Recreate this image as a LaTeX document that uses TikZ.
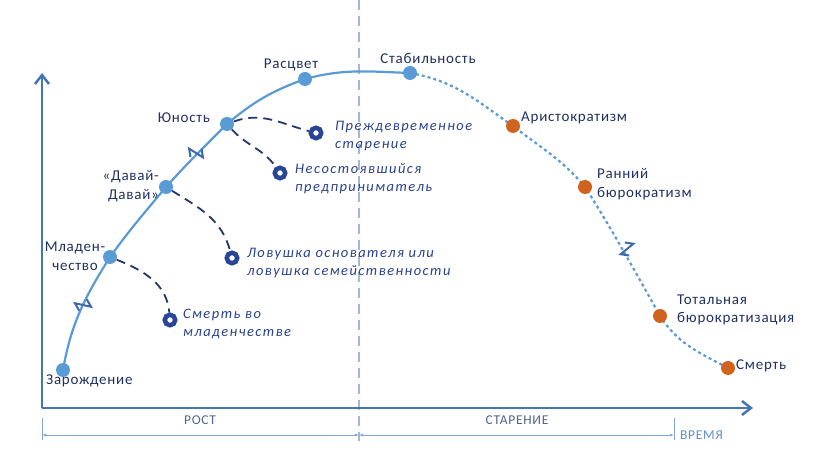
\documentclass[tikz,border=0pt]{standalone}
\usepackage{fontspec}
\setmainfont{Carlito}
\newfontfamily\labfont{Carlito}[LetterSpace=5]
\newfontfamily\itfont{Carlito}[LetterSpace=10]
\usetikzlibrary{arrows.meta}
\definecolor{curveblue}{RGB}{91,155,213}
\definecolor{axisc}{RGB}{70,118,175}
\definecolor{brkc}{RGB}{60,105,170}
\definecolor{ringc}{RGB}{40,70,150}
\definecolor{trapc}{RGB}{35,55,110}
\definecolor{labc}{RGB}{32,48,98}
\definecolor{itc}{RGB}{40,65,145}
\definecolor{dotorange}{RGB}{208,100,30}
\definecolor{vlinec}{RGB}{160,185,215}
\definecolor{dimc}{RGB}{130,165,210}
\definecolor{botc}{RGB}{80,100,140}
\definecolor{timec}{RGB}{90,145,205}
\begin{document}
\begin{tikzpicture}[x=1pt,y=1pt,
  lab/.style={font=\labfont\fontsize{15}{18.5}\selectfont, text=labc, inner sep=1pt},
  itlab/.style={font=\itfont\itshape\fontsize{14.5}{18}\selectfont, text=itc, align=left, anchor=west, inner sep=1pt},
  bdot/.style={circle, fill=curveblue, minimum size=14pt, inner sep=0pt},
  odot/.style={circle, fill=dotorange, minimum size=14pt, inner sep=0pt},
  ring/.style={circle, draw=ringc, line width=4.5pt, fill=white, minimum size=10.5pt, inner sep=0pt},
  curve/.style={draw=curveblue, line width=2.2pt},
  dotcurve/.style={draw=curveblue, line width=2.2pt, dash pattern=on 3pt off 3pt},
  trap/.style={draw=trapc, line width=1.8pt, dash pattern=on 9pt off 6pt},
  brk/.style={draw=brkc, line width=2pt, line join=miter},
  axis/.style={draw=axisc, line width=2.5pt},
  dimline/.style={draw=dimc, line width=1pt},
  botlab/.style={font=\labfont\fontsize{13.5}{16}\selectfont, inner sep=1pt},
]
\useasboundingbox (0,0) rectangle (816,455);

% points on the curve
\coordinate (z) at (63,85);
\coordinate (m) at (110,198);
\coordinate (d) at (166,268);
\coordinate (yu) at (227,331);
\coordinate (r) at (305,376);
\coordinate (s) at (410,382);
\coordinate (a) at (513,329);
\coordinate (rb) at (585,268);
\coordinate (t) at (660,139);
\coordinate (de) at (728,87);

% axes & separators
\coordinate (o) at (42,47);
\coordinate (ytop) at (42,382);
\coordinate (xend) at (753,47);
\coordinate (vtop) at (359,455);
\coordinate (vbot) at (359,14);
\draw[draw=vlinec, line width=1.5pt, dash pattern=on 10pt off 6pt] (vtop) -- (vbot);
\draw[axis, -{Straight Barb[length=9pt,width=14pt,line width=2.5pt]}] (o) -- (ytop);
\draw[axis, -{Straight Barb[length=9pt,width=14pt,line width=2.5pt]}] (o) -- (xend);

% dimension line
\coordinate (t1a) at (42,37);  \coordinate (t1b) at (42,15);
\coordinate (t3a) at (674,37); \coordinate (t3b) at (674,15);
\coordinate (d1) at (42,20); \coordinate (d2) at (359,20); \coordinate (d3) at (674,20);
\draw[dimline] (t1a) -- (t1b);
\draw[dimline] (t3a) -- (t3b);
\draw[dimline, {Latex[length=4pt,width=3pt]}-{Latex[length=4pt,width=3pt]}] (d1) -- (d2);
\draw[dimline, {Latex[length=4pt,width=3pt]}-{Latex[length=4pt,width=3pt]}] (d2) -- (d3);
\node[botlab, text=botc] (lrost) at (200,35) {РОСТ};
\node[botlab, text=botc] (lstar) at (517,35) {СТАРЕНИЕ};
\node[botlab, text=timec, anchor=west] (ltime) at (679,20) {ВРЕМЯ};

% curve
\draw[curve] (z) to[out=80,in=238] (m) to[out=54,in=230] (d) to[out=48,in=225] (yu)
  to[out=40,in=200] (r) to[out=15,in=178] (s);
\draw[dotcurve] (s) to[out=-10,in=145] (a) to[out=-38,in=130] (rb)
  to[out=-57,in=119,looseness=0.7] (t) to[out=-57,in=152] (de);

% break marks
\begin{scope}[shift={(83,150)}, rotate=68, scale=1.35]
  \draw[brk] (-5,1) -- (-1,6) -- (1,-6) -- (5,-1);
\end{scope}
\begin{scope}[shift={(196,302)}, rotate=48, scale=1.35]
  \draw[brk] (-5,1) -- (-1,6) -- (1,-6) -- (5,-1);
\end{scope}
\begin{scope}[shift={(627,206)}, rotate=-60, scale=1.35]
  \draw[brk] (-5,1) -- (-1,6) -- (1,-6) -- (5,-1);
\end{scope}

% dots
\node[bdot] (zdot) at (z) {};
\node[bdot] (mdot) at (m) {};
\node[bdot] (ddot) at (d) {};
\node[bdot] (ydot) at (yu) {};
\node[bdot] (rdot) at (r) {};
\node[bdot] (sdot) at (s) {};
\node[odot] (adot) at (a) {};
\node[odot] (rbdot) at (rb) {};
\node[odot] (tdot) at (t) {};
\node[odot] (dedot) at (de) {};

% rings
\node[ring] (r1) at (170,135) {};
\node[ring] (r2) at (232,197) {};
\node[ring] (r3) at (280,282) {};
\node[ring] (r4) at (316,322) {};

% trap connectors
\draw[trap] (mdot) to[out=-22,in=95] (r1);
\draw[trap] (ddot) to[out=-32,in=105] (r2);
\draw[trap] (ydot) to[out=-48,in=125] (r3);
\draw[trap] (ydot) to[out=20,in=165] (r4);

% curve labels
\node[lab, anchor=west] (lz) at (45,74) {Зарождение};
\node[lab, align=center] (lm) at (75,199) {Младен-\\чество};
\node[lab, align=right, anchor=east] (ld) at (160,269) {«Давай-\\Давай»};
\node[lab] (ly) at (184,337) {Юность};
\node[lab] (lr) at (291,390) {Расцвет};
\node[lab] (ls) at (428,397) {Стабильность};
\node[lab, anchor=west] (la) at (520,337) {Аристократизм};
\node[lab, anchor=west, align=left] (lrb) at (596,271) {Ранний\\бюрократизм};
\node[lab, anchor=west, align=left] (lt) at (676,145) {Тотальная\\бюрократизация};
\node[lab, anchor=west] (lde) at (735,89) {Смерть};

% trap labels
\node[itlab] (l1) at (182,131) {Смерть во\\младенчестве};
\node[itlab] (l2) at (246,192) {Ловушка основателя или\\ловушка семейственности};
\node[itlab] (l3) at (294,276) {Несостоявшийся\\предприниматель};
\node[itlab] (l4) at (334,319) {Преждевременное\\старение};
\end{tikzpicture}
\end{document}
